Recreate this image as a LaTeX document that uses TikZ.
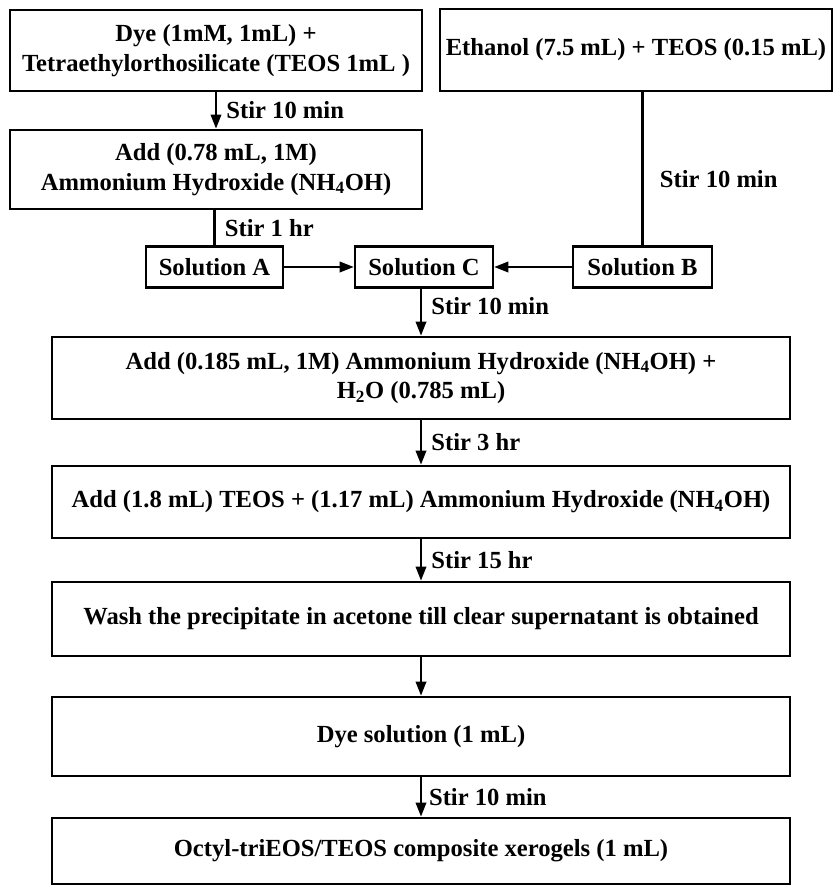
\documentclass[tikz,border=0pt]{standalone}
\usepackage{fontspec}
\setmainfont{Liberation Serif}
\usepackage{tikz}
\usetikzlibrary{arrows.meta, positioning}
\newcommand{\pxu}{0.03cm}
\tikzstyle{stepbox} = [
    rectangle,
    draw=black,
    line width=2.4pt,
    align=center,
    inner sep=0pt,
    font=\bfseries\fontsize{21}{25}\selectfont
]
\tikzstyle{widebox} = [
    stepbox,
    minimum width=738*\pxu
]
\tikzstyle{solution} = [
    stepbox,
    line width=2.2pt,
    minimum height=41*\pxu
]
\tikzstyle{link} = [
    line width=1.8pt
]
\tikzstyle{arrow} = [
    link,
    -{Triangle[length=12pt, width=9pt]}
]
\tikzstyle{stir} = [
    right,
    inner sep=0pt,
    xshift=8pt,
    font=\bfseries\fontsize{21}{25}\selectfont
]

\begin{document}
\begin{tikzpicture}[x=0.03cm, y=-0.03cm]
    \useasboundingbox (0,0) rectangle (834,892);
    % top row
    \node[stepbox, minimum width=412*\pxu, minimum height=81*\pxu] (dye) at (216,50.5) {Dye (1mM, 1mL) +\\Tetraethylorthosilicate (TEOS 1mL )};
    \node[stepbox, minimum width=392*\pxu, minimum height=82*\pxu] (ethanol) at (636,50) {Ethanol (7.5 mL) + TEOS (0.15 mL)};
    \node[stepbox, minimum width=412*\pxu, minimum height=79*\pxu] (ammonia) at (216,169.5) {Add (0.78 mL, 1M)\\Ammonium Hydroxide (NH\textsubscript{4}OH)};
    % solutions
    \node[solution, minimum width=137*\pxu] (solA) at (214.5,267) {Solution A};
    \node[solution, minimum width=138*\pxu] (solC) at (424,267) {Solution C};
    \node[solution, minimum width=139*\pxu] (solB) at (642.5,267) {Solution B};
    % main column
    \node[widebox, minimum height=82*\pxu] (water) at (421,378) {Add (0.185 mL, 1M) Ammonium Hydroxide (NH\textsubscript{4}OH) +\\H\textsubscript{2}O (0.785 mL)};
    \node[widebox, minimum height=72*\pxu] (teos) at (421,502) {Add (1.8 mL) TEOS + (1.17 mL) Ammonium Hydroxide (NH\textsubscript{4}OH)};
    \node[widebox, minimum height=74*\pxu] (wash) at (421,619) {Wash the precipitate in acetone till clear supernatant is obtained};
    \node[widebox, minimum height=79*\pxu] (dyesol) at (421,736.5) {Dye solution (1 mL)};
    \node[widebox, minimum height=66*\pxu] (xerogel) at (421,851) {Octyl-triEOS/TEOS composite xerogels (1 mL)};

    \draw[arrow] (dye) -- node[stir]{Stir 10 min} (ammonia);
    \draw[link] (ammonia.south -| solA.north) -- node[stir]{Stir 1 hr} (solA.north);
    \draw[link] (ethanol.south -| solB.north) -- node[stir, pos=0.57, xshift=6pt]{Stir 10 min} (solB.north);
    \draw[arrow] (solA) -- (solC);
    \draw[arrow] (solB) -- (solC);
    \draw[arrow] (solC.south -| water.north) -- node[stir, pos=0.36]{Stir 10 min} (water.north);
    \draw[arrow] (water) -- node[stir]{Stir 3 hr} (teos);
    \draw[arrow] (teos) -- node[stir]{Stir 15 hr} (wash);
    \draw[arrow] (wash) -- (dyesol);
    \draw[arrow] (dyesol) -- node[stir, xshift=-2pt]{Stir 10 min} (xerogel);
\end{tikzpicture}
\end{document}
